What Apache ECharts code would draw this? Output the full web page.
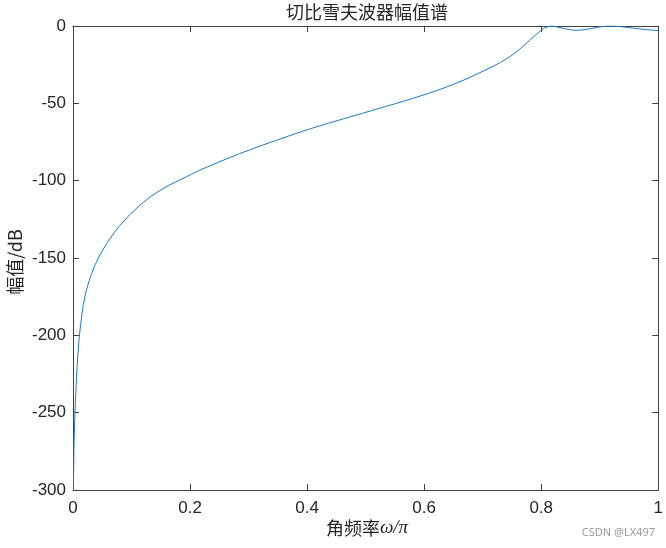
<!DOCTYPE html>
<html>
<head>
<meta charset="utf-8">
<script src="https://cdn.jsdelivr.net/npm/echarts@6/dist/echarts.min.js"></script>
<style>
html,body{margin:0;padding:0;background:#fff;}
#chart{width:666px;height:548px;}
</style>
</head>
<body>
<div id="chart"></div>
<script>
// Normalized angular frequency (omega/pi)
const freq = [0.0007, 0.001, 0.0017, 0.0025, 0.0034, 0.0045, 0.0063, 0.008, 0.0102, 0.013,
  0.0176, 0.022, 0.029, 0.037, 0.046, 0.057, 0.0686, 0.080, 0.097, 0.114,
  0.130, 0.148, 0.165, 0.182, 0.2, 0.216, 0.25, 0.284, 0.324, 0.35,
  0.38, 0.41, 0.437, 0.465, 0.494, 0.52, 0.55, 0.58, 0.607, 0.63,
  0.647, 0.675, 0.704, 0.72, 0.73, 0.74, 0.75, 0.76, 0.77, 0.78,
  0.79, 0.80, 0.806, 0.812, 0.818, 0.824, 0.83, 0.84, 0.85, 0.858,
  0.866, 0.875, 0.885, 0.895, 0.905, 0.915, 0.925, 0.935, 0.947, 0.96,
  0.976, 0.99, 1.0];
// Magnitude in dB
const magDb = [-300, -290, -272, -260, -249, -239, -225, -214, -203, -193,
  -180, -172, -163, -155, -148, -141, -134.5, -129, -122, -116,
  -111, -106.5, -102.8, -99.6, -96.3, -93.3, -87.8, -82.6, -77, -73.6,
  -69.6, -65.9, -62.8, -59.7, -56.5, -53.6, -50.3, -46.9, -43.6, -40.6,
  -38.2, -33.8, -28.6, -25.6, -23.6, -21.4, -18.9, -16.0, -12.8, -9.4,
  -5.9, -2.8, -1.2, -0.3, 0, -0.3, -0.9, -1.7, -2.4, -2.8,
  -2.7, -2.3, -1.7, -0.9, -0.3, 0, -0.1, -0.4, -0.9, -1.5,
  -2.2, -2.7, -2.9];
const xTicks = [0, 0.2, 0.4, 0.6, 0.8, 1];
const yTicks = [-300, -250, -200, -150, -100, -50, 0];

const titleText = '切比雪夫波器幅值谱';
const xName = '角频率';
const yName = '幅值/dB';

const chart = echarts.init(document.getElementById('chart'), null, {renderer: 'canvas'});
const axisColor = '#404040';
const tickFont = {fontFamily: 'Liberation Sans, Arial, sans-serif', fontSize: 17, color: '#262626'};
const lineStyle = {color: axisColor, width: 1};

const data = freq.map((f, i) => [f, magDb[i]]);

chart.setOption({
  animation: false,
  backgroundColor: '#fff',
  grid: {left: 73, right: 5, top: 26, bottom: 58, containLabel: false},
  xAxis: [
    {type: 'value', min: 0, max: 1, interval: 0.2, position: 'bottom',
     axisLine: {show: true, onZero: false, lineStyle: lineStyle},
     axisTick: {show: true, inside: true, length: 6, lineStyle: lineStyle},
     axisLabel: Object.assign({margin: 10, formatter: v => String(+v.toFixed(1))}, tickFont),
     splitLine: {show: false}},
    {type: 'value', min: 0, max: 1, interval: 0.2, position: 'top',
     axisLine: {show: true, onZero: false, lineStyle: lineStyle},
     axisTick: {show: true, inside: true, length: 6, lineStyle: lineStyle},
     axisLabel: {show: false}, splitLine: {show: false}}
  ],
  yAxis: [
    {type: 'value', min: -300, max: 0, interval: 50, position: 'left',
     axisLine: {show: true, onZero: false, lineStyle: lineStyle},
     axisTick: {show: true, inside: true, length: 6, lineStyle: lineStyle},
     axisLabel: Object.assign({margin: 7}, tickFont),
     splitLine: {show: false}},
    {type: 'value', min: -300, max: 0, interval: 50, position: 'right',
     axisLine: {show: true, onZero: false, lineStyle: lineStyle},
     axisTick: {show: true, inside: true, length: 6, lineStyle: lineStyle},
     axisLabel: {show: false}, splitLine: {show: false}}
  ],
  series: [{
    type: 'line', data: data, xAxisIndex: 0, yAxisIndex: 0,
    showSymbol: false, smooth: false,
    lineStyle: {color: '#1a7cc2', width: 1}, clip: true
  }],
  graphic: [
    {type: 'text', x: 367, y: 12,
     style: {text: titleText, textAlign: 'center', textVerticalAlign: 'middle',
       font: '18px "Noto Sans CJK SC", sans-serif', fill: '#262626'}},
    {type: 'text', x: 367, y: 528,
     style: {text: xName + '{i|ω/π}', textAlign: 'center', textVerticalAlign: 'middle',
       font: '18px "Noto Sans CJK SC", sans-serif', fill: '#262626',
       rich: {i: {fontFamily: 'Liberation Serif, serif', fontStyle: 'italic', fontSize: 19, fill: '#262626', color: '#262626'}}}},
    {type: 'text', x: 15, y: 262, rotation: Math.PI / 2,
     style: {text: yName, textAlign: 'center', textVerticalAlign: 'middle',
       font: '18px "Noto Sans CJK SC", sans-serif', fill: '#262626'}},
    {type: 'text', x: 655, y: 533,
     style: {text: 'CSDN @LX497', textAlign: 'right', textVerticalAlign: 'middle',
       font: '11px "Noto Sans", sans-serif', fill: '#9a9a9a'}}
  ]
});
</script>
</body>
</html>
